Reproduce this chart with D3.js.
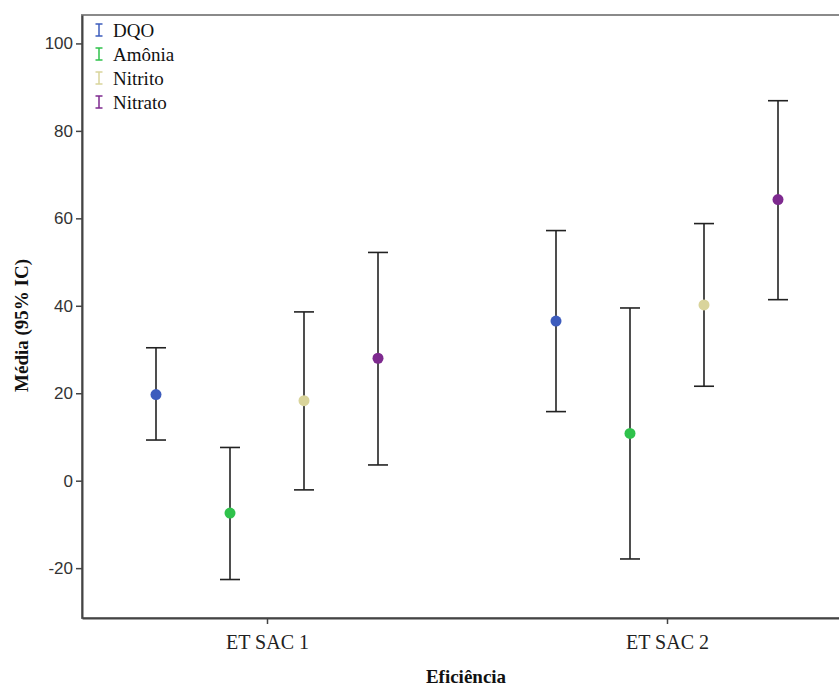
<!DOCTYPE html>
<html>
<head>
<meta charset="utf-8">
<script src="https://cdn.jsdelivr.net/npm/d3@7"></script>
<style>
  html, body { margin: 0; padding: 0; background: #fff; }
  svg { display: block; }
</style>
</head>
<body>
<svg id="chart" width="839" height="689"></svg>
<script>
// ---- data ----
const categories = ["ET SAC 1", "ET SAC 2"];
const seriesNames = ["DQO", "Amônia", "Nitrito", "Nitrato"];
const seriesColors = ["#3d5cbd", "#2fc24b", "#d9d49b", "#7e2a8f"];
// means per series, [SAC1, SAC2]
const meanDQO     = [19.7, 36.5];
const meanAmonia  = [-7.4, 10.8];
const meanNitrito = [18.3, 40.2];
const meanNitrato = [28.0, 64.3];
// lower 95% CI
const lowDQO      = [9.3, 15.8];
const lowAmonia   = [-22.6, -17.9];
const lowNitrito  = [-2.1, 21.6];
const lowNitrato  = [3.6, 41.4];
// upper 95% CI
const highDQO     = [30.4, 57.2];
const highAmonia  = [7.6, 39.5];
const highNitrito = [38.6, 58.8];
const highNitrato = [52.2, 86.9];
const yTicks = [-20, 0, 20, 40, 60, 80, 100];
const yTitle = "Média (95% IC)";
const xTitle = "Eficiência";

const means = [meanDQO, meanAmonia, meanNitrito, meanNitrato];
const lows = [lowDQO, lowAmonia, lowNitrito, lowNitrato];
const highs = [highDQO, highAmonia, highNitrito, highNitrato];

const rows = [];
seriesNames.forEach((s, i) => {
  categories.forEach((c, j) => {
    rows.push({ series: s, cat: c, mean: means[i][j], low: lows[i][j], high: highs[i][j], color: seriesColors[i] });
  });
});

// ---- layout ----
const svg = d3.select("#chart");
const pLeft = 82, pRight = 852, pTop = 15, pBottom = 618;
const serif = "'Liberation Serif', 'Times New Roman', serif";

const x = d3.scalePoint().domain(categories).range([pLeft, pRight]).padding(0.4625);
const xs = d3.scalePoint().domain(seriesNames).range([-111, 111]);
const y = d3.scaleLinear().domain([-31.4, 106.5]).range([pBottom, pTop]);
const color = d3.scaleOrdinal().domain(seriesNames).range(seriesColors);

// frame
svg.append("rect")
  .attr("x", pLeft).attr("y", pTop)
  .attr("width", pRight - pLeft).attr("height", pBottom - pTop)
  .attr("fill", "none").attr("stroke", "#8a8a8a").attr("stroke-width", 2);

// y axis
const yAxis = svg.append("g")
  .attr("transform", `translate(${pLeft},0)`)
  .call(d3.axisLeft(y).tickValues(yTicks).tickFormat(d => String(d))
    .tickSize(6).tickSizeOuter(0).tickPadding(3));
yAxis.select(".domain").attr("stroke", "#444").attr("stroke-width", 2);
yAxis.selectAll(".tick line").attr("stroke", "#444").attr("stroke-width", 1.5);
yAxis.selectAll(".tick text")
  .attr("font-family", "'Liberation Sans', Arial, sans-serif")
  .attr("font-size", 17).attr("fill", "#333");

// x axis
const xAxis = svg.append("g")
  .attr("transform", `translate(0,${pBottom})`)
  .call(d3.axisBottom(x).tickSize(6).tickSizeOuter(0).tickPadding(11));
xAxis.select(".domain").attr("stroke", "#444").attr("stroke-width", 2);
xAxis.selectAll(".tick line").attr("stroke", "#444").attr("stroke-width", 1.5);
xAxis.selectAll(".tick text")
  .attr("font-family", serif)
  .attr("font-size", 20).attr("fill", "#222");

// titles
svg.append("text")
  .attr("transform", `translate(28,${(pTop + pBottom) / 2 + 9}) rotate(-90)`)
  .attr("text-anchor", "middle")
  .attr("font-family", serif)
  .attr("font-weight", "bold").attr("font-size", 19).attr("fill", "#111")
  .text(yTitle);

svg.append("text")
  .attr("x", 466).attr("y", 683)
  .attr("text-anchor", "middle")
  .attr("font-family", serif)
  .attr("font-weight", "bold").attr("font-size", 19).attr("fill", "#111")
  .text(xTitle);

// error bars
const g = svg.append("g");
const capW = 10;
const bars = g.selectAll("g.bar").data(rows).join("g").attr("class", "bar")
  .attr("transform", d => `translate(${x(d.cat) + xs(d.series)},0)`);
bars.append("line")
  .attr("x1", 0).attr("x2", 0)
  .attr("y1", d => y(d.low)).attr("y2", d => y(d.high))
  .attr("stroke", "#222").attr("stroke-width", 1.6);
bars.append("line")
  .attr("x1", -capW).attr("x2", capW)
  .attr("y1", d => y(d.high)).attr("y2", d => y(d.high))
  .attr("stroke", "#222").attr("stroke-width", 1.6);
bars.append("line")
  .attr("x1", -capW).attr("x2", capW)
  .attr("y1", d => y(d.low)).attr("y2", d => y(d.low))
  .attr("stroke", "#222").attr("stroke-width", 1.6);
bars.append("circle")
  .attr("cx", 0).attr("cy", d => y(d.mean)).attr("r", 5.5)
  .attr("fill", d => d.color);

// legend
const legend = svg.append("g").attr("transform", "translate(99,30)");
const li = legend.selectAll("g").data(seriesNames).join("g")
  .attr("transform", (d, i) => `translate(0,${i * 24})`);
li.append("line").attr("x1", 0).attr("x2", 0).attr("y1", -6).attr("y2", 6)
  .attr("stroke", d => color(d)).attr("stroke-width", 1.5);
li.append("line").attr("x1", -3.5).attr("x2", 3.5).attr("y1", -6).attr("y2", -6)
  .attr("stroke", d => color(d)).attr("stroke-width", 1.5);
li.append("line").attr("x1", -3.5).attr("x2", 3.5).attr("y1", 6).attr("y2", 6)
  .attr("stroke", d => color(d)).attr("stroke-width", 1.5);
li.append("text").attr("x", 14).attr("y", 6.5)
  .attr("font-family", serif)
  .attr("font-size", 19).attr("fill", "#111")
  .text(d => d);
</script>
</body>
</html>
